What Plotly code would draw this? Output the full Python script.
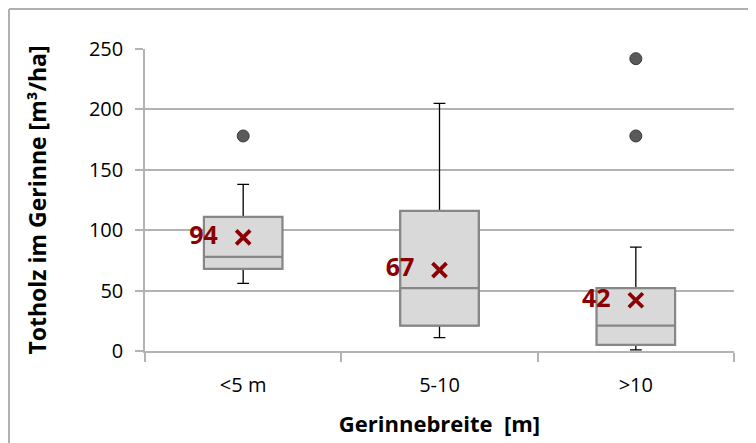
import plotly.graph_objects as go

categories = ["<5 m", "5-10", ">10"]
q1 = [68, 21, 5]
median = [78, 52, 21]
q3 = [111, 116, 52]
lower_whisker = [56, 11, 1]
upper_whisker = [138, 205, 86]
means = [94, 67, 42]
outlier_cat = ["<5 m", ">10", ">10"]
outlier_val = [178, 178, 242]
y_ticks = [0, 50, 100, 150, 200, 250]

FONT = "Open Sans"
DARKRED = "#8B0000"
GRID = "#b3b3b3"

fig = go.Figure()

# whiskers (black)
fig.add_trace(go.Box(
    x=categories, q1=q1, median=median, q3=q3,
    lowerfence=lower_whisker, upperfence=upper_whisker,
    line=dict(color="black", width=1.3), fillcolor="rgba(0,0,0,0)",
    whiskerwidth=0.15, width=0.4, boxpoints=False, showlegend=False,
    hoverinfo="skip",
))
# boxes (gray)
fig.add_trace(go.Box(
    x=categories, q1=q1, median=median, q3=q3,
    lowerfence=q1, upperfence=q3,
    line=dict(color="#878787", width=2.2), fillcolor="#d9d9d9",
    whiskerwidth=0, width=0.4, boxpoints=False, showlegend=False,
))
# outliers
fig.add_trace(go.Scatter(
    x=outlier_cat, y=outlier_val, mode="markers",
    marker=dict(symbol="circle", size=12, color="#5a5a5a",
                line=dict(color="#3a3a3a", width=1)),
    showlegend=False,
))
# means
fig.add_trace(go.Scatter(
    x=categories, y=means, mode="markers+text",
    text=[str(m) + "\u00a0\u00a0\u200a" for m in means], textposition="middle left",
    textfont=dict(family=FONT, size=25, color=DARKRED, weight="bold"),
    marker=dict(symbol="x-thin", size=14, color=DARKRED,
                line=dict(color=DARKRED, width=3.8)),
    showlegend=False,
))

# outer frame (top and left)
fig.add_shape(type="line", xref="paper", yref="paper",
              x0=-0.2309, x1=1.05, y0=1.1325, y1=1.1325,
              line=dict(color="#b0b0b0", width=2))
fig.add_shape(type="line", xref="paper", yref="paper",
              x0=-0.2309, x1=-0.2309, y0=1.1325, y1=-0.32,
              line=dict(color="#b0b0b0", width=2))

fig.update_layout(
    width=748, height=435,
    margin=dict(l=137, r=22, t=41, b=92),
    paper_bgcolor="white", plot_bgcolor="white",
    boxmode="overlay",
    font=dict(family=FONT, size=20, color="black"),
    showlegend=False,
)
fig.update_xaxes(
    type="category", categoryorder="array", categoryarray=categories,
    range=[-0.5, 2.5], automargin=False,
    showline=True, linecolor=GRID, linewidth=1.5,
    ticks="outside", tickson="boundaries", ticklen=9, tickcolor=GRID, tickwidth=1.5,
    showgrid=False, ticklabelstandoff=15,
    tickfont=dict(family=FONT, size=20),
    title=dict(text="Gerinnebreite  [m]", font=dict(family=FONT, size=22, weight="bold"), standoff=20),
)
fig.update_yaxes(
    range=[0, 250], tickvals=y_ticks, automargin=False,
    showline=True, linecolor=GRID, linewidth=1.5,
    ticks="outside", ticklen=8, tickcolor=GRID, tickwidth=1.5,
    showgrid=True, gridcolor=GRID, gridwidth=1.5,
    zeroline=False, ticklabelstandoff=8,
    tickfont=dict(family=FONT, size=20),
    title=dict(text="Totholz im Gerinne [m³/ha]", font=dict(family=FONT, size=23, weight="bold"), standoff=36),
)

fig.write_html("out.html")
